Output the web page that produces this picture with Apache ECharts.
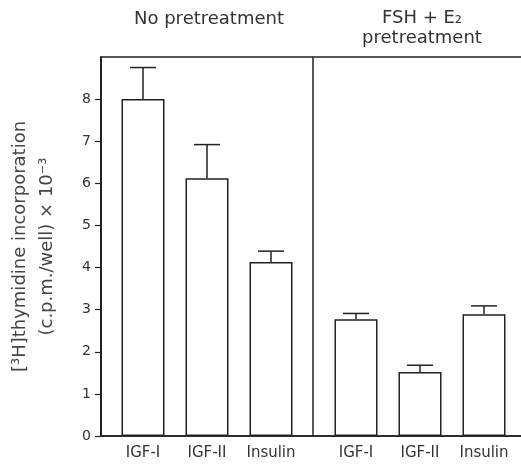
<!DOCTYPE html>
<html><head><meta charset="utf-8">
<script src="https://cdn.jsdelivr.net/npm/echarts@6/dist/echarts.min.js"></script>
<style>html,body{margin:0;padding:0;background:#fff}#c{width:521px;height:467px}</style>
</head><body><div id="c"></div>
<script>
const categories = ['IGF-I', 'IGF-II', 'Insulin'];
const groupTitles = ['No pretreatment', 'FSH + E₂\npretreatment'];
const noPretreatMeans = [8.0, 6.12, 4.13];
const noPretreatErrors = [0.75, 0.8, 0.26];
const fshE2Means = [2.77, 1.52, 2.89];
const fshE2Errors = [0.14, 0.16, 0.2];
const yTickValues = [0, 1, 2, 3, 4, 5, 6, 7, 8];
const yTitle = '[³H]thymidine incorporation\n(c.p.m./well) × 10⁻³';

const LINE = '#222';
const FONT = 'DejaVu Sans, sans-serif';
const chart = echarts.init(document.getElementById('c'));

function errSeries(idx, means, errs) {
  return {
    type: 'custom', xAxisIndex: idx, yAxisIndex: idx, z: 5,
    data: means.map((m, i) => [i, m, m + errs[i]]),
    renderItem: function (params, api) {
      const lo = api.coord([api.value(0), api.value(1)]);
      const hi = api.coord([api.value(0), api.value(2)]);
      const half = 13;
      return { type: 'group', children: [
        { type: 'line', shape: { x1: lo[0], y1: lo[1], x2: hi[0], y2: hi[1] }, style: { stroke: LINE, lineWidth: 1.5 } },
        { type: 'line', shape: { x1: hi[0] - half, y1: hi[1], x2: hi[0] + half, y2: hi[1] }, style: { stroke: LINE, lineWidth: 1.5 } }
      ]};
    }
  };
}
function barSeries(idx, means) {
  return {
    type: 'bar', xAxisIndex: idx, yAxisIndex: idx, data: means, barWidth: 43,
    itemStyle: { color: '#fff', borderColor: LINE, borderWidth: 1.5 }, silent: true
  };
}
const catX = g => ({
  type: 'category', gridIndex: g, data: categories,
  axisLine: { show: false }, axisTick: { show: false },
  axisLabel: { color: '#333', fontSize: 15, fontFamily: FONT, margin: 10 }
});
const hidY = g => ({ type: 'value', gridIndex: g, min: 0, max: 9, show: false });

chart.setOption({
  animation: false,
  grid: [
    { left: 101, right: -4, top: 57, bottom: 31, show: true, borderColor: LINE, borderWidth: 1.5, backgroundColor: 'transparent', outerBoundsMode: 'none', containLabel: false },
    { left: 111, width: 192, top: 57, bottom: 31, outerBoundsMode: 'none', containLabel: false },
    { left: 324, width: 192, top: 57, bottom: 31, outerBoundsMode: 'none', containLabel: false }
  ],
  xAxis: [
    { type: 'value', gridIndex: 0, min: 0, max: 2, interval: 1,
      axisLine: { show: true, lineStyle: { color: LINE, width: 1.5 } },
      axisTick: { show: false }, axisLabel: { show: false },
      splitLine: { show: true, lineStyle: { color: LINE, width: 1.5 } } },
    catX(1), catX(2)
  ],
  yAxis: [
    { type: 'value', gridIndex: 0, min: 0, max: 9, interval: 1,
      axisLine: { show: true, lineStyle: { color: LINE, width: 1.5 } },
      axisTick: { show: true, length: 6, customValues: yTickValues, lineStyle: { color: LINE, width: 1.2 } },
      axisLabel: { customValues: yTickValues, color: '#333', fontSize: 14, fontFamily: FONT, margin: 10 },
      splitLine: { show: false },
      name: yTitle, nameLocation: 'middle', nameRotate: 90, nameGap: 40,
      nameTextStyle: { color: '#444', fontSize: 18, fontFamily: FONT, lineHeight: 27 } },
    hidY(1), hidY(2)
  ],
  graphic: [
    { type: 'text', x: 209, y: 10, style: { text: groupTitles[0], fill: '#333', fontSize: 18, fontFamily: FONT, textAlign: 'center' } },
    { type: 'text', x: 422, y: 8, style: { text: groupTitles[1], fill: '#333', fontSize: 18, fontFamily: FONT, textAlign: 'center', lineHeight: 20 } }
  ],
  series: [
    barSeries(1, noPretreatMeans), errSeries(1, noPretreatMeans, noPretreatErrors),
    barSeries(2, fshE2Means), errSeries(2, fshE2Means, fshE2Errors)
  ]
});
</script></body></html>
